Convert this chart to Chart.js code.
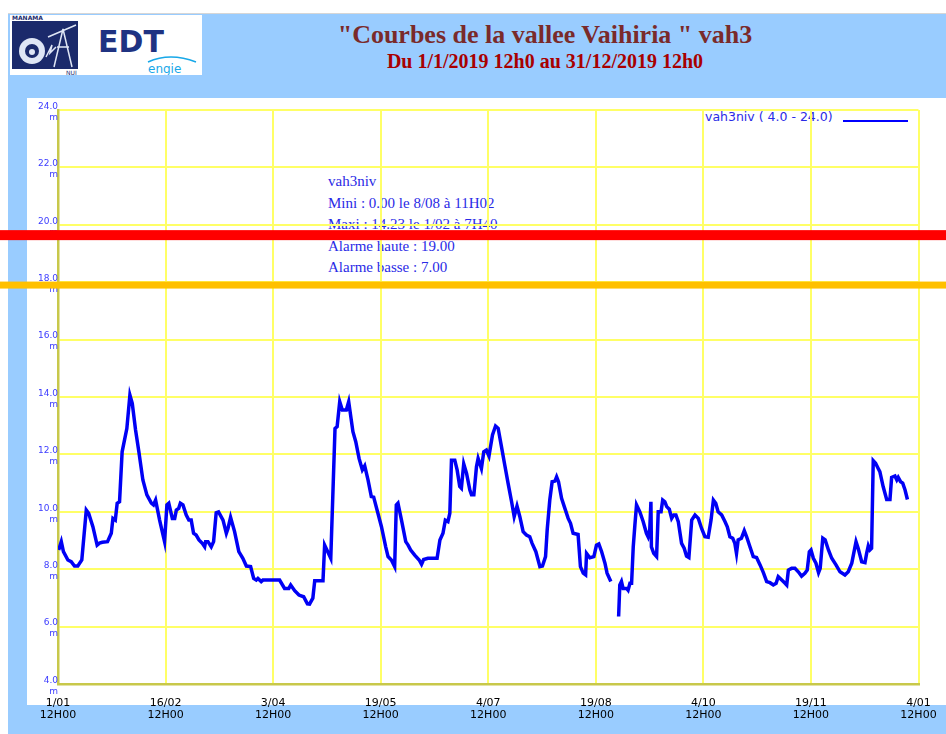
<!DOCTYPE html>
<html>
<head>
<meta charset="utf-8">
<script src="https://cdn.jsdelivr.net/npm/chart.js@4"></script>
<style>
html, body { margin: 0; padding: 0; width: 946px; height: 734px; overflow: hidden; background: #fff; }
#bg { position: absolute; left: 8px; top: 13px; right: 0; bottom: 0; background: #99ccff; border-top: 1px solid #d6d6d6; }
#logo { position: absolute; left: 10px; top: 15px; width: 192px; height: 60px; background: #fff; }
#title { position: absolute; left: 200px; width: 690px; top: 20px; text-align: center; font: bold 26px "Liberation Serif", serif; line-height: 30px; color: #7a2a2a; }
#subtitle { position: absolute; left: 200px; width: 690px; top: 50px; text-align: center; font: bold 20px "Liberation Serif", serif; line-height: 22px; color: #a80000; }
#panel { position: absolute; left: 27px; top: 98px; right: 0; height: 607px; background: #fff; }
#info { position: absolute; left: 328px; top: 171px; font: 15px "Liberation Serif", serif; line-height: 21.6px; color: #2a2ae6; white-space: nowrap; }
#legendText { position: absolute; left: 705px; top: 109px; font: 12.5px "DejaVu Sans", sans-serif; line-height: 16px; color: #2a2ae6; white-space: nowrap; }
#legendLine { position: absolute; left: 843px; top: 120px; width: 65px; height: 2px; background: #0000ff; }
#chartBox { position: absolute; left: 0; top: 0; width: 946px; height: 734px; }
</style>
</head>
<body>
<div id="bg"></div>
<div id="logo">
  <svg width="192" height="60" viewBox="0 0 192 60">
    <rect x="2" y="6" width="66" height="48" fill="#1b2a6b"/>
    <circle cx="22" cy="36" r="13" fill="#dfe6f5"/>
    <circle cx="22" cy="36" r="7" fill="#1b2a6b"/>
    <circle cx="22" cy="37" r="3" fill="#dfe6f5"/>
    <path d="M44 52 L53 14 L62 52 M47 32 L59 32 M38 22 L66 10" stroke="#dfe6f5" stroke-width="1.5" fill="none"/>
    <path d="M36 42 L42 30 L40 38 L46 32" stroke="#dfe6f5" stroke-width="1.5" fill="none"/>
    <text x="2" y="5" font-family="DejaVu Sans" font-size="6" font-weight="bold" fill="#1b2a6b">MANAMA</text>
    <text x="56" y="60" font-family="DejaVu Sans" font-size="6" fill="#1b2a6b">NUI</text>
    <text x="88" y="37" font-family="DejaVu Sans" font-size="30" font-weight="bold" fill="#1f3382">EDT</text>
    <path d="M138 47 Q160 37 186 47" stroke="#18a8e8" stroke-width="1.5" fill="none"/>
    <text x="138" y="58" font-family="DejaVu Sans" font-size="12" fill="#18a8e8">engie</text>
  </svg>
</div>
<div id="title">"Courbes de la vallee Vaihiria " vah3</div>
<div id="subtitle">Du 1/1/2019 12h0 au 31/12/2019 12h0</div>
<div id="panel"></div>
<div id="info">
  vah3niv<br>
  Mini : 0.00 le 8/08 à 11H02<br>
  Maxi : 14.23 le 1/02 à 7H40<br>
  Alarme haute : 19.00<br>
  Alarme basse : 7.00
</div>
<div id="legendText">vah3niv ( 4.0 - 24.0)</div>
<div id="legendLine"></div>
<div id="chartBox"><canvas id="levelChart" width="946" height="734"></canvas></div>

<script>
// axe des temps : jours depuis le 1/01 12H00
const X_MIN = 0;
const X_MAX = 365;
const xTickLabels = ['1/01', '16/02', '3/04', '19/05', '4/07', '19/08', '4/10', '19/11', '4/01'];
const xTickSubLabel = '12H00';

// niveau vah3niv (m)
const Y_MIN = 4;
const Y_MAX = 24;
const Y_STEP = 2;

// bandes d'alarme (m)
const bandLevels = [19.64, 17.90];
const bandColors = ['#ff0000', '#ffc000'];
const bandWidths = [10, 7];

// releves : jour / niveau (null = trou de mesure)
const levelDays = [
  0.3, 1.4, 2.3, 4.2, 5.6, 7.0, 8.4, 10.1, 12.0, 13.0, 14.8, 16.6, 17.6, 18.8, 21.0, 22.6, 23.3, 24.3, 25.1, 26.1,
  27.2, 28.2, 29.2, 30.5, 31.5, 32.9, 34.3, 36.0, 37.7, 39.6, 40.5, 41.4, 43.1, 45.2, 46.2, 47.0, 48.5, 49.5, 50.2, 51.2,
  51.9, 53.0, 54.4, 55.5, 56.5, 57.5, 58.6, 59.8, 61.2, 62.2, 62.6, 63.6, 65.0, 66.0, 67.1, 68.1, 70.0, 71.4, 72.1, 73.2,
  74.9, 76.7, 78.4, 79.9, 81.7, 83.0, 84.1, 84.8, 86.2, 86.9, 94.0, 96.1, 97.9, 98.7, 100.4, 102.2, 104.2, 105.8, 106.7, 108.1,
  108.9, 112.4, 113.1, 115.7, 117.5, 118.4, 119.5, 120.6, 122.3, 123.3, 125.1, 126.3, 127.7, 129.1, 130.1, 131.5, 132.9, 133.9, 135.7, 137.2,
  139.0, 140.0, 141.4, 142.8, 143.5, 144.2, 145.7, 147.5, 148.5, 149.6, 151.3, 153.2, 154.2, 155.1, 156.9, 159.0, 160.8, 162.0, 163.3, 164.3,
  165.4, 166.2, 166.9, 168.3, 169.3, 170.4, 171.1, 172.1, 173.3, 174.7, 175.4, 176.4, 177.5, 178.2, 179.6, 180.6, 181.7, 182.8, 184.3, 185.6,
  186.7, 188.1, 189.5, 190.9, 192.4, 193.5, 194.7, 195.9, 197.3, 198.7, 200.1, 201.1, 202.7, 204.4, 205.5, 206.8, 207.5, 208.6, 209.6, 210.8,
  211.5, 212.3, 213.6, 215.0, 216.4, 217.4, 218.5, 220.6, 221.6, 222.8, 223.8, 224.2, 225.6, 227.3, 228.4, 229.4, 230.6, 232.0, 232.9, 234.5,
  236.0,
  237.8, 238.3, 239.0, 239.7, 241.2, 241.8, 242.6, 243.3, 244.0, 244.7, 245.4, 246.8, 248.2, 249.6, 250.3, 251.0, 251.5, 251.7, 252.7, 253.9,
  254.6, 255.8, 256.5, 257.4, 258.2, 259.3, 260.3, 261.2, 262.1, 263.1, 264.5, 265.6, 266.6, 267.6, 268.8, 270.2, 271.6, 273.0, 274.4, 275.8,
  277.0, 278.0, 279.0, 280.0, 281.5, 282.9, 283.9, 285.0, 286.2, 287.1, 287.8, 288.5, 289.9, 291.1, 292.1, 293.5, 294.9, 296.3, 297.8, 299.2,
  300.6, 302.0, 303.4, 304.6, 305.5, 307.0, 308.4, 309.1, 309.8, 311.2, 312.6, 314.0, 315.4, 316.8, 317.8, 318.7, 319.4, 320.4, 321.5, 322.6,
  323.3, 324.4, 325.4, 326.8, 328.2, 330.0, 331.7, 333.8, 335.2, 336.7, 338.5, 339.4, 340.9, 342.3, 343.0, 343.7, 344.4, 345.1, 345.8, 346.8,
  347.9, 348.6, 350.0, 351.5, 352.9, 353.6, 355.0, 355.8, 356.4, 357.4, 358.3, 359.3, 360.3
];
const levelValues = [
  8.67, 8.96, 8.61, 8.32, 8.26, 8.11, 8.11, 8.32, 10.06, 9.95, 9.48, 8.84, 8.91, 8.94, 8.96, 9.25, 9.77, 9.71, 10.30, 10.35,
  12.09, 12.50, 12.90, 14.07, 13.78, 12.85, 12.09, 11.11, 10.59, 10.30, 10.24, 10.41, 9.71, 8.96, 10.24, 10.30, 9.77, 9.77, 10.06, 10.12,
  10.30, 10.24, 9.89, 9.71, 9.71, 9.25, 9.19, 9.02, 8.90, 8.78, 8.96, 8.96, 8.78, 8.96, 9.97, 10.00, 9.71, 9.25, 9.42, 9.81,
  9.31, 8.61, 8.38, 8.11, 8.09, 7.68, 7.62, 7.68, 7.57, 7.62, 7.62, 7.33, 7.33, 7.45, 7.25, 7.10, 7.04, 6.79, 6.78, 6.99,
  7.60, 7.60, 8.84, 8.38, 12.90, 12.97, 13.84, 13.55, 13.55, 13.84, 12.79, 12.44, 11.86, 11.46, 11.60, 11.11, 10.53, 10.51, 9.95, 9.48,
  8.78, 8.44, 8.32, 8.09, 10.24, 10.30, 9.71, 8.96, 8.84, 8.67, 8.49, 8.32, 8.17, 8.34, 8.38, 8.38, 8.38, 9.02, 9.25, 9.71,
  9.66, 9.95, 11.80, 11.80, 11.46, 10.88, 10.82, 11.67, 11.34, 10.76, 10.59, 10.59, 11.57, 11.86, 11.51, 12.09, 12.15, 11.94, 12.68, 12.99,
  12.91, 12.27, 11.63, 11.00, 10.35, 9.83, 10.20, 9.83, 9.31, 9.19, 9.13, 8.90, 8.61, 8.09, 8.11, 8.44, 9.37, 10.41, 11.05, 11.07,
  11.22, 11.05, 10.47, 10.12, 9.77, 9.60, 9.25, 9.21, 8.09, 7.86, 7.80, 8.55, 8.40, 8.44, 8.84, 8.88, 8.61, 8.21, 7.86, 7.57,
  null,
  6.35, 7.45, 7.57, 7.33, 7.33, 7.27, 7.51, 7.51, 8.78, 9.54, 10.24, 10.00, 9.66, 9.25, 9.13, 9.37, 10.35, 8.78, 8.55, 8.44,
  10.00, 10.00, 10.41, 10.35, 10.18, 10.09, 9.77, 9.89, 9.89, 9.66, 8.90, 8.73, 8.46, 8.41, 9.71, 9.89, 9.77, 9.42, 9.13, 9.11,
  9.71, 10.41, 10.30, 10.00, 9.89, 9.66, 9.48, 9.13, 9.08, 8.90, 8.55, 9.02, 9.08, 9.34, 9.13, 8.78, 8.44, 8.41, 8.15, 7.88,
  7.57, 7.53, 7.45, 7.51, 7.74, 7.62, 7.51, 7.45, 7.97, 8.03, 8.03, 7.91, 7.76, 7.86, 7.97, 8.61, 8.67, 8.38, 8.21, 7.88,
  8.03, 9.08, 9.02, 8.67, 8.38, 8.15, 7.91, 7.80, 7.91, 8.21, 8.96, 8.73, 8.26, 8.23, 8.55, 8.81, 8.67, 8.73, 11.78, 11.69,
  11.51, 11.40, 10.88, 10.43, 10.43, 11.20, 11.25, 11.11, 11.20, 11.05, 11.00, 10.76, 10.43
];

const GRID_YELLOW = '#ffff66';
const AXIS_OLIVE = '#c8c84a';

// bandes rouge / orange tracees par-dessus tout, sur toute la largeur
const alarmBandsPlugin = {
  id: 'alarmBands',
  afterDraw(chart) {
    const ctx = chart.ctx;
    const yScale = chart.scales.y;
    ctx.save();
    bandLevels.forEach((lvl, i) => {
      const py = yScale.getPixelForValue(lvl);
      ctx.fillStyle = bandColors[i];
      ctx.fillRect(0, py - bandWidths[i] / 2, chart.width, bandWidths[i]);
    });
    ctx.restore();
  }
};

const points = levelDays.map((d, i) => ({ x: d, y: levelValues[i] }));

new Chart(document.getElementById('levelChart').getContext('2d'), {
  type: 'line',
  data: {
    datasets: [{
      label: 'vah3niv',
      data: points,
      borderColor: '#0000f5',
      borderWidth: 3.5,
      pointRadius: 0,
      tension: 0,
      spanGaps: false,
      fill: false
    }]
  },
  options: {
    responsive: false,
    animation: false,
    layout: { padding: { top: 110, right: 27.5, bottom: 0, left: 0 } },
    plugins: { legend: { display: false }, tooltip: { enabled: false } },
    scales: {
      x: {
        type: 'linear',
        min: X_MIN,
        max: X_MAX,
        afterBuildTicks: (s) => {
          s.ticks = xTickLabels.map((_, i) => ({ value: X_MIN + i * (X_MAX - X_MIN) / (xTickLabels.length - 1) }));
        },
        afterFit: (s) => {
          s.height = 50;
          s.paddingLeft = 0;
          s.paddingRight = 0;
        },
        grid: { color: GRID_YELLOW, lineWidth: 2, drawTicks: false },
        border: { color: AXIS_OLIVE, width: 2.5 },
        ticks: {
          autoSkip: false,
          maxRotation: 0,
          padding: 13,
          color: '#000',
          font: { family: 'DejaVu Sans', size: 11, lineHeight: '12px' },
          callback: (v, i) => [xTickLabels[i], xTickSubLabel]
        }
      },
      y: {
        min: Y_MIN,
        max: Y_MAX,
        afterFit: (s) => { s.width = 58; },
        grid: { color: GRID_YELLOW, lineWidth: 2, drawTicks: false },
        border: { color: AXIS_OLIVE, width: 2.5 },
        ticks: {
          stepSize: Y_STEP,
          padding: 0,
          labelOffset: 2,
          color: '#3c3cff',
          font: { family: 'DejaVu Sans', size: 9, lineHeight: '11px' },
          callback: (v) => [v.toFixed(1), 'm']
        }
      }
    }
  },
  plugins: [alarmBandsPlugin]
});
</script>
</body>
</html>
